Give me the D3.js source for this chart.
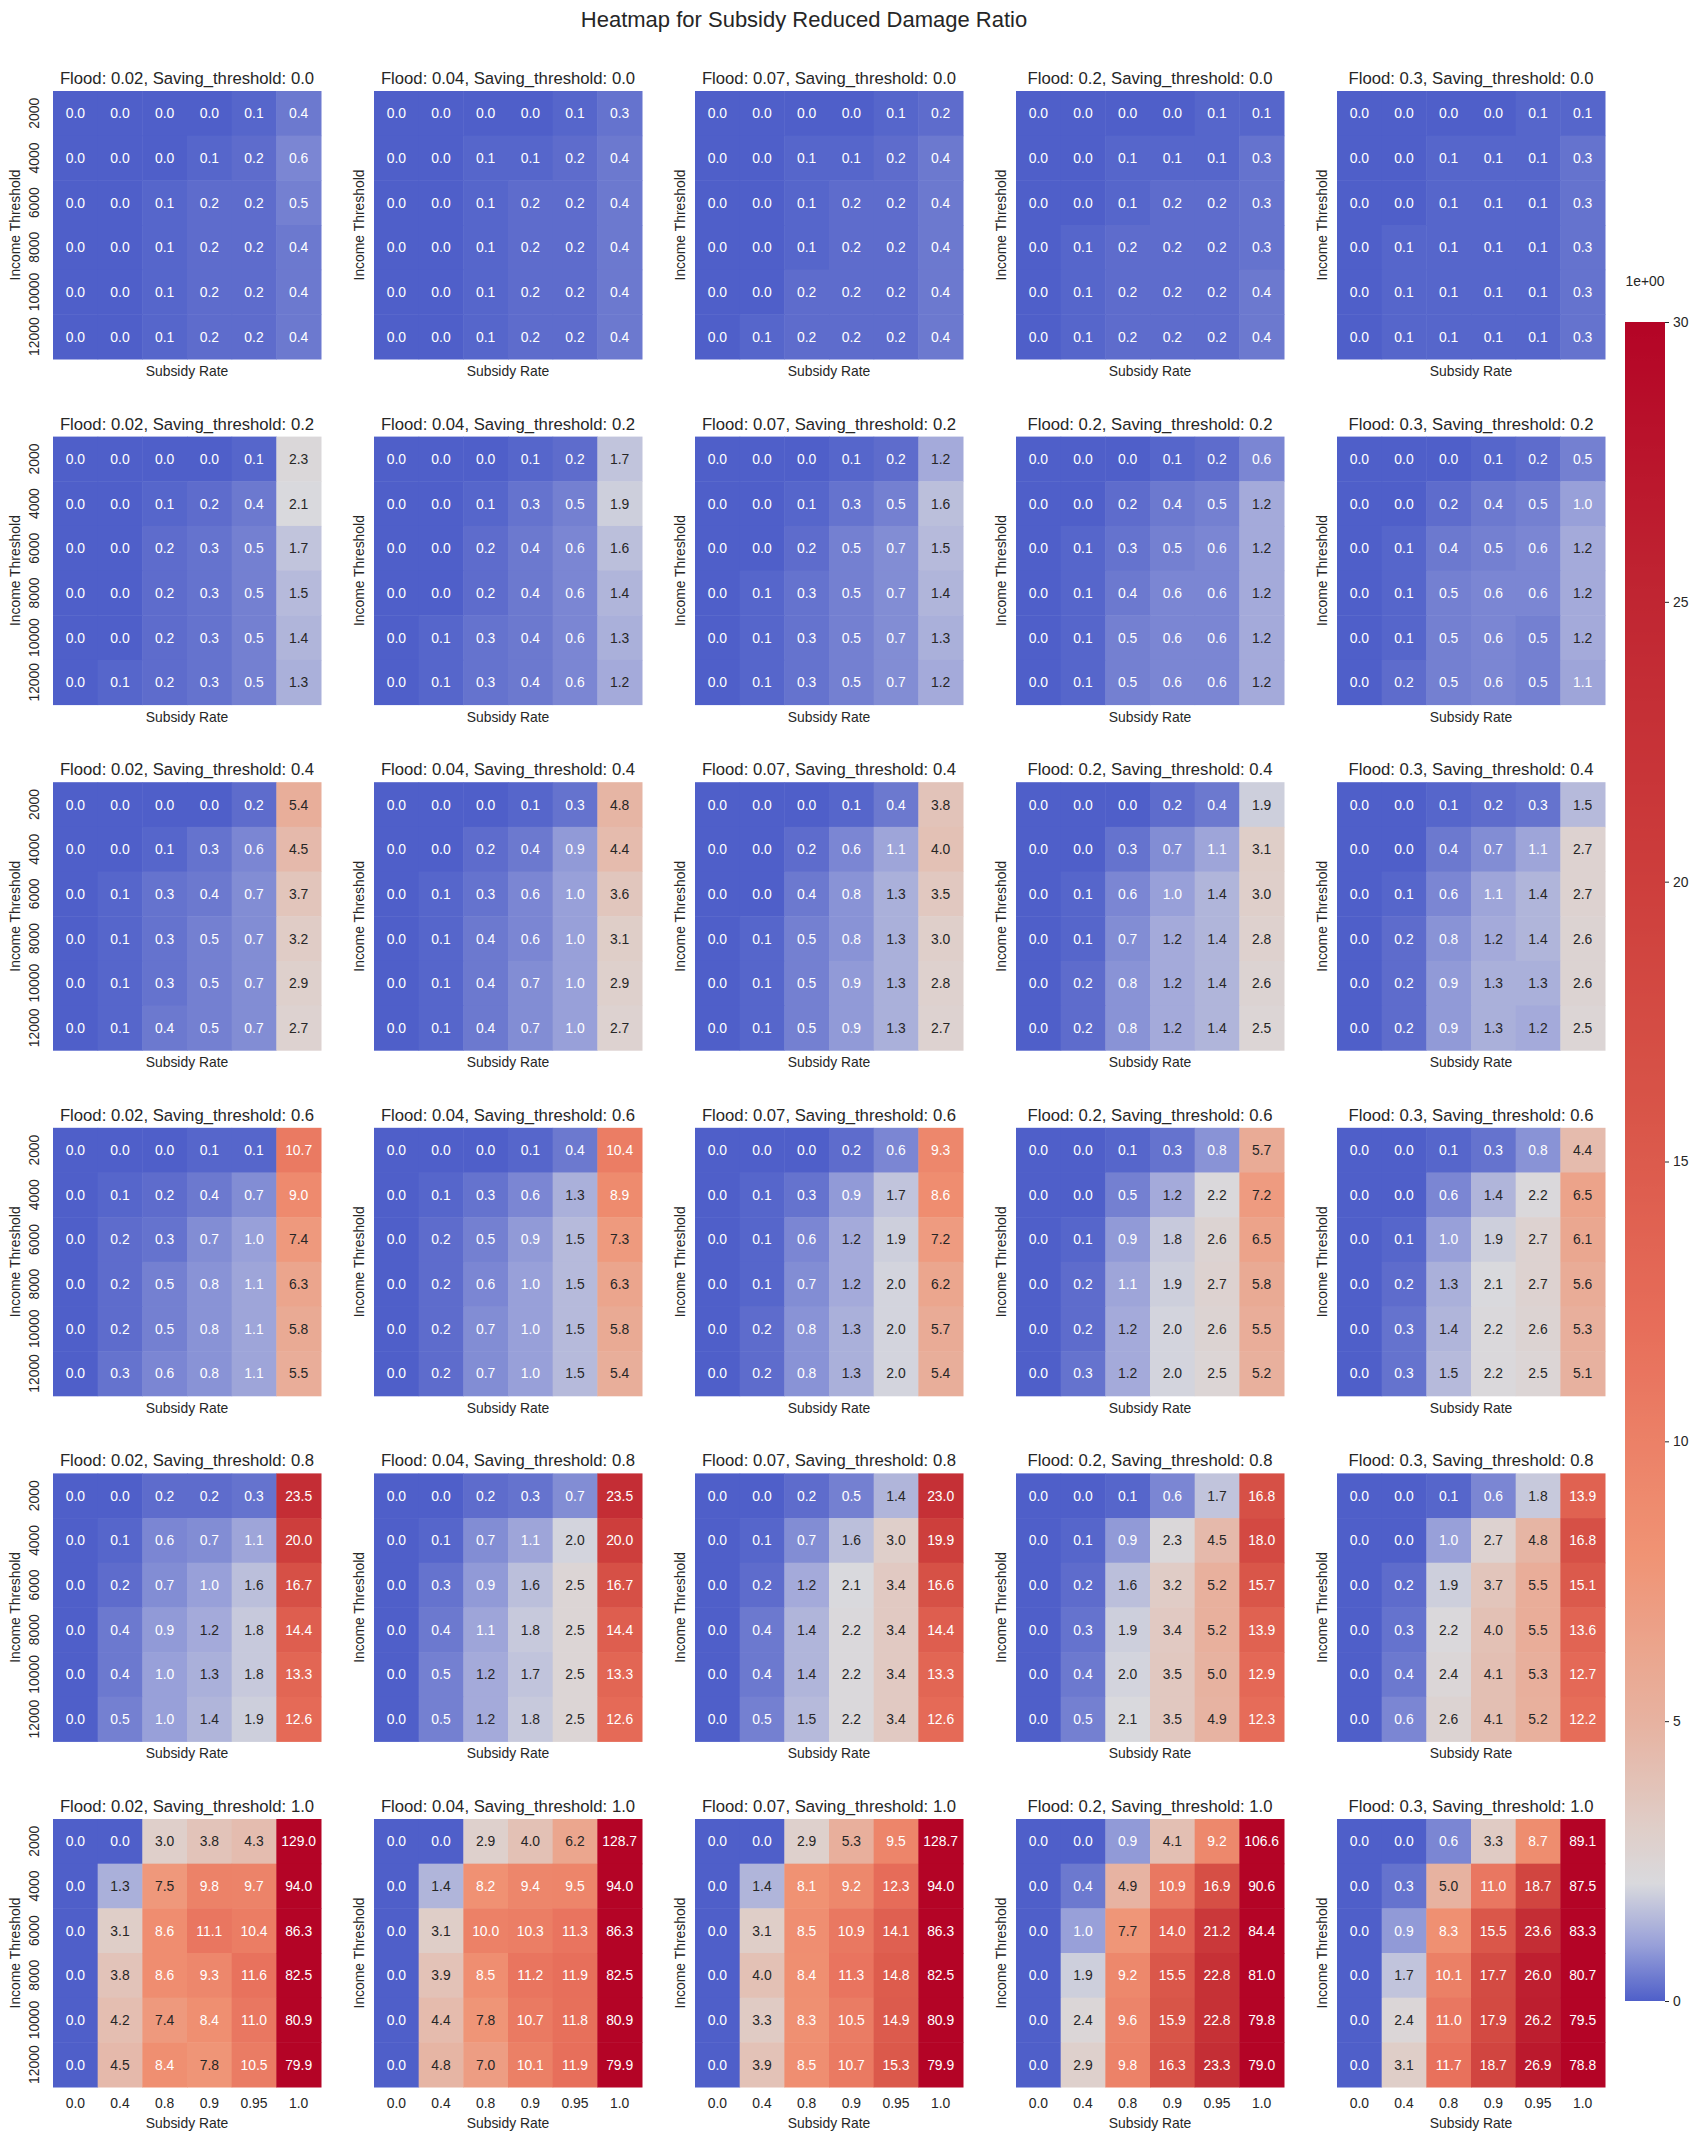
<!DOCTYPE html>
<html lang="en">
<head>
<meta charset="UTF-8"/>
<title>Heatmap for Subsidy Reduced Damage Ratio</title>
<script src="https://d3js.org/d3.v7.min.js"></script>
<style>
  body { margin: 0; background: #fff; }
  svg { font-family: "Liberation Sans", Arial, sans-serif; }
  text { fill: #262626; }
</style>
</head>
<body>
<script>
// categories
const floods = ["0.02", "0.04", "0.07", "0.2", "0.3"];
const savingThresholds = ["0.0", "0.2", "0.4", "0.6", "0.8", "1.0"];
const incomeThresholds = ["2000", "4000", "6000", "8000", "10000", "12000"];
const subsidyRates = ["0.0", "0.4", "0.8", "0.9", "0.95", "1.0"];
const colorbarTicks = [0, 5, 10, 15, 20, 25, 30];

// one matrix per flood level (rows = income threshold, cols = subsidy rate)
const saving00 = [
  [[0.0,0.0,0.0,0.0,0.1,0.4],[0.0,0.0,0.0,0.1,0.2,0.6],[0.0,0.0,0.1,0.2,0.2,0.5],[0.0,0.0,0.1,0.2,0.2,0.4],[0.0,0.0,0.1,0.2,0.2,0.4],[0.0,0.0,0.1,0.2,0.2,0.4]],
  [[0.0,0.0,0.0,0.0,0.1,0.3],[0.0,0.0,0.1,0.1,0.2,0.4],[0.0,0.0,0.1,0.2,0.2,0.4],[0.0,0.0,0.1,0.2,0.2,0.4],[0.0,0.0,0.1,0.2,0.2,0.4],[0.0,0.0,0.1,0.2,0.2,0.4]],
  [[0.0,0.0,0.0,0.0,0.1,0.2],[0.0,0.0,0.1,0.1,0.2,0.4],[0.0,0.0,0.1,0.2,0.2,0.4],[0.0,0.0,0.1,0.2,0.2,0.4],[0.0,0.0,0.2,0.2,0.2,0.4],[0.0,0.1,0.2,0.2,0.2,0.4]],
  [[0.0,0.0,0.0,0.0,0.1,0.1],[0.0,0.0,0.1,0.1,0.1,0.3],[0.0,0.0,0.1,0.2,0.2,0.3],[0.0,0.1,0.2,0.2,0.2,0.3],[0.0,0.1,0.2,0.2,0.2,0.4],[0.0,0.1,0.2,0.2,0.2,0.4]],
  [[0.0,0.0,0.0,0.0,0.1,0.1],[0.0,0.0,0.1,0.1,0.1,0.3],[0.0,0.0,0.1,0.1,0.1,0.3],[0.0,0.1,0.1,0.1,0.1,0.3],[0.0,0.1,0.1,0.1,0.1,0.3],[0.0,0.1,0.1,0.1,0.1,0.3]]
];
const saving02 = [
  [[0.0,0.0,0.0,0.0,0.1,2.3],[0.0,0.0,0.1,0.2,0.4,2.1],[0.0,0.0,0.2,0.3,0.5,1.7],[0.0,0.0,0.2,0.3,0.5,1.5],[0.0,0.0,0.2,0.3,0.5,1.4],[0.0,0.1,0.2,0.3,0.5,1.3]],
  [[0.0,0.0,0.0,0.1,0.2,1.7],[0.0,0.0,0.1,0.3,0.5,1.9],[0.0,0.0,0.2,0.4,0.6,1.6],[0.0,0.0,0.2,0.4,0.6,1.4],[0.0,0.1,0.3,0.4,0.6,1.3],[0.0,0.1,0.3,0.4,0.6,1.2]],
  [[0.0,0.0,0.0,0.1,0.2,1.2],[0.0,0.0,0.1,0.3,0.5,1.6],[0.0,0.0,0.2,0.5,0.7,1.5],[0.0,0.1,0.3,0.5,0.7,1.4],[0.0,0.1,0.3,0.5,0.7,1.3],[0.0,0.1,0.3,0.5,0.7,1.2]],
  [[0.0,0.0,0.0,0.1,0.2,0.6],[0.0,0.0,0.2,0.4,0.5,1.2],[0.0,0.1,0.3,0.5,0.6,1.2],[0.0,0.1,0.4,0.6,0.6,1.2],[0.0,0.1,0.5,0.6,0.6,1.2],[0.0,0.1,0.5,0.6,0.6,1.2]],
  [[0.0,0.0,0.0,0.1,0.2,0.5],[0.0,0.0,0.2,0.4,0.5,1.0],[0.0,0.1,0.4,0.5,0.6,1.2],[0.0,0.1,0.5,0.6,0.6,1.2],[0.0,0.1,0.5,0.6,0.5,1.2],[0.0,0.2,0.5,0.6,0.5,1.1]]
];
const saving04 = [
  [[0.0,0.0,0.0,0.0,0.2,5.4],[0.0,0.0,0.1,0.3,0.6,4.5],[0.0,0.1,0.3,0.4,0.7,3.7],[0.0,0.1,0.3,0.5,0.7,3.2],[0.0,0.1,0.3,0.5,0.7,2.9],[0.0,0.1,0.4,0.5,0.7,2.7]],
  [[0.0,0.0,0.0,0.1,0.3,4.8],[0.0,0.0,0.2,0.4,0.9,4.4],[0.0,0.1,0.3,0.6,1.0,3.6],[0.0,0.1,0.4,0.6,1.0,3.1],[0.0,0.1,0.4,0.7,1.0,2.9],[0.0,0.1,0.4,0.7,1.0,2.7]],
  [[0.0,0.0,0.0,0.1,0.4,3.8],[0.0,0.0,0.2,0.6,1.1,4.0],[0.0,0.0,0.4,0.8,1.3,3.5],[0.0,0.1,0.5,0.8,1.3,3.0],[0.0,0.1,0.5,0.9,1.3,2.8],[0.0,0.1,0.5,0.9,1.3,2.7]],
  [[0.0,0.0,0.0,0.2,0.4,1.9],[0.0,0.0,0.3,0.7,1.1,3.1],[0.0,0.1,0.6,1.0,1.4,3.0],[0.0,0.1,0.7,1.2,1.4,2.8],[0.0,0.2,0.8,1.2,1.4,2.6],[0.0,0.2,0.8,1.2,1.4,2.5]],
  [[0.0,0.0,0.1,0.2,0.3,1.5],[0.0,0.0,0.4,0.7,1.1,2.7],[0.0,0.1,0.6,1.1,1.4,2.7],[0.0,0.2,0.8,1.2,1.4,2.6],[0.0,0.2,0.9,1.3,1.3,2.6],[0.0,0.2,0.9,1.3,1.2,2.5]]
];
const saving06 = [
  [[0.0,0.0,0.0,0.1,0.1,10.7],[0.0,0.1,0.2,0.4,0.7,9.0],[0.0,0.2,0.3,0.7,1.0,7.4],[0.0,0.2,0.5,0.8,1.1,6.3],[0.0,0.2,0.5,0.8,1.1,5.8],[0.0,0.3,0.6,0.8,1.1,5.5]],
  [[0.0,0.0,0.0,0.1,0.4,10.4],[0.0,0.1,0.3,0.6,1.3,8.9],[0.0,0.2,0.5,0.9,1.5,7.3],[0.0,0.2,0.6,1.0,1.5,6.3],[0.0,0.2,0.7,1.0,1.5,5.8],[0.0,0.2,0.7,1.0,1.5,5.4]],
  [[0.0,0.0,0.0,0.2,0.6,9.3],[0.0,0.1,0.3,0.9,1.7,8.6],[0.0,0.1,0.6,1.2,1.9,7.2],[0.0,0.1,0.7,1.2,2.0,6.2],[0.0,0.2,0.8,1.3,2.0,5.7],[0.0,0.2,0.8,1.3,2.0,5.4]],
  [[0.0,0.0,0.1,0.3,0.8,5.7],[0.0,0.0,0.5,1.2,2.2,7.2],[0.0,0.1,0.9,1.8,2.6,6.5],[0.0,0.2,1.1,1.9,2.7,5.8],[0.0,0.2,1.2,2.0,2.6,5.5],[0.0,0.3,1.2,2.0,2.5,5.2]],
  [[0.0,0.0,0.1,0.3,0.8,4.4],[0.0,0.0,0.6,1.4,2.2,6.5],[0.0,0.1,1.0,1.9,2.7,6.1],[0.0,0.2,1.3,2.1,2.7,5.6],[0.0,0.3,1.4,2.2,2.6,5.3],[0.0,0.3,1.5,2.2,2.5,5.1]]
];
const saving08 = [
  [[0.0,0.0,0.2,0.2,0.3,23.5],[0.0,0.1,0.6,0.7,1.1,20.0],[0.0,0.2,0.7,1.0,1.6,16.7],[0.0,0.4,0.9,1.2,1.8,14.4],[0.0,0.4,1.0,1.3,1.8,13.3],[0.0,0.5,1.0,1.4,1.9,12.6]],
  [[0.0,0.0,0.2,0.3,0.7,23.5],[0.0,0.1,0.7,1.1,2.0,20.0],[0.0,0.3,0.9,1.6,2.5,16.7],[0.0,0.4,1.1,1.8,2.5,14.4],[0.0,0.5,1.2,1.7,2.5,13.3],[0.0,0.5,1.2,1.8,2.5,12.6]],
  [[0.0,0.0,0.2,0.5,1.4,23.0],[0.0,0.1,0.7,1.6,3.0,19.9],[0.0,0.2,1.2,2.1,3.4,16.6],[0.0,0.4,1.4,2.2,3.4,14.4],[0.0,0.4,1.4,2.2,3.4,13.3],[0.0,0.5,1.5,2.2,3.4,12.6]],
  [[0.0,0.0,0.1,0.6,1.7,16.8],[0.0,0.1,0.9,2.3,4.5,18.0],[0.0,0.2,1.6,3.2,5.2,15.7],[0.0,0.3,1.9,3.4,5.2,13.9],[0.0,0.4,2.0,3.5,5.0,12.9],[0.0,0.5,2.1,3.5,4.9,12.3]],
  [[0.0,0.0,0.1,0.6,1.8,13.9],[0.0,0.0,1.0,2.7,4.8,16.8],[0.0,0.2,1.9,3.7,5.5,15.1],[0.0,0.3,2.2,4.0,5.5,13.6],[0.0,0.4,2.4,4.1,5.3,12.7],[0.0,0.6,2.6,4.1,5.2,12.2]]
];
const saving10 = [
  [[0.0,0.0,3.0,3.8,4.3,129.0],[0.0,1.3,7.5,9.8,9.7,94.0],[0.0,3.1,8.6,11.1,10.4,86.3],[0.0,3.8,8.6,9.3,11.6,82.5],[0.0,4.2,7.4,8.4,11.0,80.9],[0.0,4.5,8.4,7.8,10.5,79.9]],
  [[0.0,0.0,2.9,4.0,6.2,128.7],[0.0,1.4,8.2,9.4,9.5,94.0],[0.0,3.1,10.0,10.3,11.3,86.3],[0.0,3.9,8.5,11.2,11.9,82.5],[0.0,4.4,7.8,10.7,11.8,80.9],[0.0,4.8,7.0,10.1,11.9,79.9]],
  [[0.0,0.0,2.9,5.3,9.5,128.7],[0.0,1.4,8.1,9.2,12.3,94.0],[0.0,3.1,8.5,10.9,14.1,86.3],[0.0,4.0,8.4,11.3,14.8,82.5],[0.0,3.3,8.3,10.5,14.9,80.9],[0.0,3.9,8.5,10.7,15.3,79.9]],
  [[0.0,0.0,0.9,4.1,9.2,106.6],[0.0,0.4,4.9,10.9,16.9,90.6],[0.0,1.0,7.7,14.0,21.2,84.4],[0.0,1.9,9.2,15.5,22.8,81.0],[0.0,2.4,9.6,15.9,22.8,79.8],[0.0,2.9,9.8,16.3,23.3,79.0]],
  [[0.0,0.0,0.6,3.3,8.7,89.1],[0.0,0.3,5.0,11.0,18.7,87.5],[0.0,0.9,8.3,15.5,23.6,83.3],[0.0,1.7,10.1,17.7,26.0,80.7],[0.0,2.4,11.0,17.9,26.2,79.5],[0.0,3.1,11.7,18.7,26.9,78.8]]
];
const panelRows = [saving00, saving02, saving04, saving06, saving08, saving10];

// colour ramp (coolwarm-like, compressed towards low values)
const colorStops = [0, 1, 2.1, 3, 5, 8, 12, 16, 20, 25, 30];
const colorRamp = ["#4f5fc9", "#98a0d9", "#d9d9dd", "#dfcfca", "#e7b2a0", "#f09374", "#e76e5a", "#d85448", "#cd3e3c", "#c02632", "#b40426"];
const colorOf = d3.scaleLinear()
  .domain(colorStops)
  .range(colorRamp)
  .interpolate(d3.interpolateRgb)
  .clamp(true);

// seaborn picks dark or white annotation text from the cell luminance
function luminance(c) {
  const ch = [c.r, c.g, c.b].map(x => {
    x /= 255;
    return x <= 0.03928 ? x / 12.92 : Math.pow((x + 0.055) / 1.055, 2.4);
  });
  return 0.2126 * ch[0] + 0.7152 * ch[1] + 0.0722 * ch[2];
}

const W = 1698, H = 2140;
const cellBlock = 268;

const svg = d3.select("body").append("svg")
  .attr("width", W)
  .attr("height", H);

svg.append("text")
  .attr("x", 804)
  .attr("y", 27)
  .attr("text-anchor", "middle")
  .style("font-size", "22px")
  .text("Heatmap for Subsidy Reduced Damage Ratio");

const colX = d3.scaleLinear().domain([0, floods.length - 1]).range([53, 1337]);
const rowY = d3.scaleLinear().domain([0, savingThresholds.length - 1]).range([91, 1819]);

const x = d3.scaleBand().domain(subsidyRates).range([0, cellBlock]);
const y = d3.scaleBand().domain(incomeThresholds).range([0, cellBlock]);
const fmt = d3.format(".1f");

panelRows.forEach((row, ri) => {
  row.forEach((matrix, ci) => {
    const g = svg.append("g")
      .attr("transform", `translate(${colX(ci)},${rowY(ri)})`);

    const cells = [];
    matrix.forEach((vals, yi) => vals.forEach((v, xi) => {
      cells.push({ income: incomeThresholds[yi], rate: subsidyRates[xi], v });
    }));

    g.selectAll("rect.cell")
      .data(cells)
      .join("rect")
      .attr("class", "cell")
      .attr("x", d => x(d.rate))
      .attr("y", d => y(d.income))
      .attr("width", x.bandwidth() + 0.5)
      .attr("height", y.bandwidth() + 0.5)
      .attr("fill", d => colorOf(d.v));

    g.selectAll("text.annot")
      .data(cells)
      .join("text")
      .attr("class", "annot")
      .attr("x", d => x(d.rate) + x.bandwidth() / 2)
      .attr("y", d => y(d.income) + y.bandwidth() / 2)
      .attr("text-anchor", "middle")
      .attr("dominant-baseline", "central")
      .style("font-size", "13.9px")
      .style("fill", d => luminance(d3.rgb(colorOf(d.v))) > 0.408 ? "#262626" : "#ffffff")
      .text(d => fmt(d.v));

    // panel title
    g.append("text")
      .attr("x", cellBlock / 2)
      .attr("y", -7)
      .attr("text-anchor", "middle")
      .style("font-size", "16.7px")
      .text(`Flood: ${floods[ci]}, Saving_threshold: ${savingThresholds[ri]}`);

    // y tick labels only on the first column
    if (ci === 0) {
      g.selectAll("text.ytick")
        .data(incomeThresholds)
        .join("text")
        .attr("class", "ytick")
        .attr("transform", d => `translate(-19,${y(d) + y.bandwidth() / 2}) rotate(-90)`)
        .attr("text-anchor", "middle")
        .attr("dominant-baseline", "central")
        .style("font-size", "13.9px")
        .text(d => d);
    }
    const labelOffset = ci === 0 ? -38 : -15;
    g.append("text")
      .attr("transform", `translate(${labelOffset},${cellBlock / 2}) rotate(-90)`)
      .attr("text-anchor", "middle")
      .attr("dominant-baseline", "central")
      .style("font-size", "13.9px")
      .text("Income Threshold");

    // x tick labels only on the bottom row
    const lastRow = ri === panelRows.length - 1;
    if (lastRow) {
      g.selectAll("text.xtick")
        .data(subsidyRates)
        .join("text")
        .attr("class", "xtick")
        .attr("x", d => x(d) + x.bandwidth() / 2)
        .attr("y", cellBlock + 16)
        .attr("text-anchor", "middle")
        .attr("dominant-baseline", "central")
        .style("font-size", "13.9px")
        .text(d => d);
    }
    g.append("text")
      .attr("x", cellBlock / 2)
      .attr("y", cellBlock + (lastRow ? 36 : 12))
      .attr("text-anchor", "middle")
      .attr("dominant-baseline", "central")
      .style("font-size", "13.9px")
      .text("Subsidy Rate");
  });
});

// colorbar
const cb = { x: 1625, w: 40, top: 322, bottom: 2001 };
const cbScale = d3.scaleLinear().domain([0, 30]).range([cb.bottom, cb.top]);

const grad = svg.append("defs").append("linearGradient")
  .attr("id", "cbgrad")
  .attr("x1", 0).attr("y1", 1).attr("x2", 0).attr("y2", 0);
grad.selectAll("stop")
  .data(d3.range(0, 30.01, 0.1))
  .join("stop")
  .attr("offset", d => d / 30)
  .attr("stop-color", d => colorOf(d));

svg.append("rect")
  .attr("x", cb.x)
  .attr("y", cb.top)
  .attr("width", cb.w)
  .attr("height", cb.bottom - cb.top)
  .attr("fill", "url(#cbgrad)");

const cbAxis = svg.append("g")
  .attr("transform", `translate(${cb.x + cb.w},0)`)
  .call(d3.axisRight(cbScale).tickValues(colorbarTicks).tickSize(4).tickPadding(4));
cbAxis.select(".domain").remove();
cbAxis.selectAll("line").attr("stroke", "#262626");
cbAxis.selectAll("text")
  .style("font-size", "13.9px")
  .style("font-family", "\"Liberation Sans\", Arial, sans-serif")
  .attr("fill", "#262626");

svg.append("text")
  .attr("x", cb.x + cb.w / 2)
  .attr("y", 286)
  .attr("text-anchor", "middle")
  .style("font-size", "13.9px")
  .text("1e+00");
</script>
</body>
</html>
